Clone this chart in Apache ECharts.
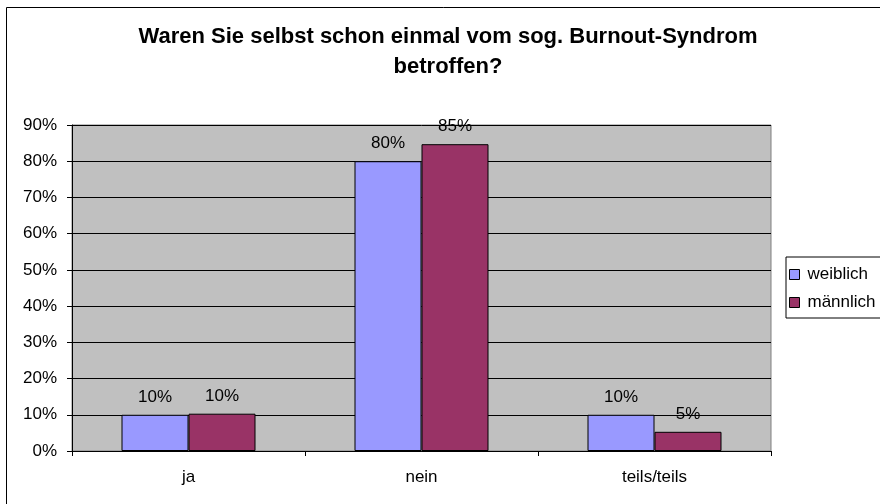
<!DOCTYPE html>
<html lang="de">
<head>
    <meta charset="UTF-8">
    <title>Burnout-Syndrom</title>
    <script src="https://cdn.jsdelivr.net/npm/echarts@6/dist/echarts.min.js"></script>
    <style>
        html, body { margin: 0; padding: 0; background: #fff; }
        #main { width: 880px; height: 504px; }
    </style>
</head>
<body>
<div id="main"></div>
<script type="text/javascript">
    const categories = ['ja', 'nein', 'teils/teils']
    const weiblich = [10, 80, 10]
    const maennlich = [10.3, 84.7, 5.3]
    const seriesNames = ['weiblich', 'männlich']

    const font = 'Liberation Sans, Arial, sans-serif'
    let chart = echarts.init(document.getElementById('main'))

    function pct(p) {
        return Math.round(p.value) + '%'
    }

    let barLabel = {
        show: true,
        position: 'top',
        distance: 9,
        color: '#000',
        fontFamily: font,
        fontSize: 17,
        formatter: pct
    }

    chart.setOption({
        backgroundColor: '#fff',
        animation: false,
        title: {
            text: 'Waren Sie selbst schon einmal vom sog. Burnout-Syndrom\nbetroffen?',
            left: 443,
            top: 17,
            textAlign: 'center',
            textStyle: {
                fontFamily: font,
                fontWeight: 'bold',
                fontSize: 22,
                lineHeight: 30,
                color: '#000'
            }
        },
        graphic: [{
            type: 'rect',
            shape: { x: 6.5, y: 7.5, width: 900, height: 520 },
            style: { fill: 'none', stroke: '#000', lineWidth: 1 },
            silent: true
        }],
        legend: {
            orient: 'vertical',
            left: 786,
            top: 257,
            padding: [9, 20, 7, 3],
            itemGap: 11,
            itemWidth: 10,
            itemHeight: 10,
            icon: 'rect',
            borderColor: '#000',
            borderWidth: 1,
            itemStyle: { borderColor: '#000', borderWidth: 1 },
            textStyle: { fontFamily: font, fontSize: 17, color: '#000', padding: [0, 0, 0, 3] },
            data: seriesNames
        },
        grid: {
            left: 72,
            right: 109,
            top: 125,
            bottom: 53,
            show: true,
            backgroundColor: '#c0c0c0',
            borderColor: '#808080',
            borderWidth: 1
        },
        xAxis: {
            type: 'category',
            data: categories,
            axisLine: { lineStyle: { color: '#000', width: 1 } },
            axisTick: { show: true, length: 5, lineStyle: { color: '#000' } },
            axisLabel: { margin: 18, color: '#000', fontFamily: font, fontSize: 17 }
        },
        yAxis: {
            type: 'value',
            min: 0,
            max: 90,
            interval: 10,
            axisLine: { show: true, lineStyle: { color: '#000', width: 1 } },
            axisTick: { show: true, length: 5, lineStyle: { color: '#000' } },
            axisLabel: { margin: 15, color: '#000', fontFamily: font, fontSize: 17, formatter: '{value}%' },
            splitLine: { lineStyle: { color: '#000', width: 1 } }
        },
        series: [{
            name: seriesNames[0],
            type: 'bar',
            data: weiblich,
            barWidth: 67,
            barGap: '0%',
            itemStyle: { color: '#9999ff', borderColor: '#000', borderWidth: 1 },
            label: barLabel
        }, {
            name: seriesNames[1],
            type: 'bar',
            data: maennlich,
            barWidth: 67,
            barGap: '0%',
            itemStyle: { color: '#993366', borderColor: '#000', borderWidth: 1 },
            label: barLabel
        }]
    })
</script>
</body>
</html>
